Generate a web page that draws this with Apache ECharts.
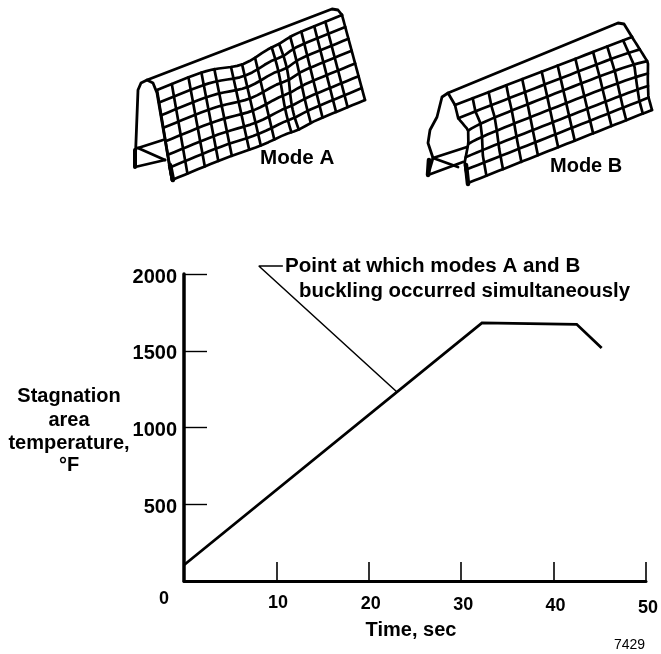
<!DOCTYPE html>
<html><head><meta charset="utf-8">
<style>html,body{margin:0;padding:0;background:#fff}#c{width:661px;height:654px}</style>
<script src="https://cdn.jsdelivr.net/npm/echarts@6/dist/echarts.min.js"></script>
</head><body><div id="c"></div>
<script>
// ---- chart data ----
const xTicks = [0, 10, 20, 30, 40, 50];
const yTicks = [0, 500, 1000, 1500, 2000];
const temperature = [[0, 104], [32.25, 1681], [42.5, 1672], [45.2, 1518]];
const leader = [[10.7, 2052], [8.1, 2052], [23.05, 1231]];
const xTitle = 'Time, sec';
const yTitle = ['Stagnation', 'area', 'temperature,', '°F'];
const noteLines = ['Point at which modes A and B', 'buckling occurred simultaneously'];
const FONT = '"Liberation Sans", Arial, sans-serif';

// ---- illustration helpers (decorative drawings, not data) ----
const lerp = (a, b, t) => a + (b - a) * t;
function interp(tab, v) {
  for (let i = 1; i < tab.length; i++) if (v <= tab[i][0]) {
    const t = (v - tab[i - 1][0]) / (tab[i][0] - tab[i - 1][0]);
    return lerp(tab[i - 1][1], tab[i][1], t);
  }
  return tab[tab.length - 1][1];
}
function mesh(c, us, vs, warp) {
  const P = (u, v) => {
    const x = lerp(lerp(c.tl[0], c.tr[0], u), lerp(c.bl[0], c.br[0], u), v);
    const y = lerp(lerp(c.tl[1], c.tr[1], u), lerp(c.bl[1], c.br[1], u), v);
    const d = warp(u, v);
    return [x + d[0], y + d[1]];
  };
  const out = [], N = 30;
  us.forEach(u => { const p = []; for (let i = 0; i <= N; i++) p.push(P(u, i / N)); out.push(p); });
  vs.forEach(v => { const p = []; for (let i = 0; i <= N; i++) p.push(P(i / N, v)); out.push(p); });
  return out;
}
const stroke = (points, w) => ({
  type: 'polyline', silent: true, shape: { points },
  style: { stroke: '#000', lineWidth: w, fill: null, lineJoin: 'round', lineCap: 'round' }
});
const label = (text, x, y, size, sx, weight, align) => ({
  type: 'text', silent: true, x, y, scaleX: sx || 1,
  style: { text, fill: '#000', font: (weight || 'bold') + ' ' + size + 'px ' + FONT, align: align || 'left', verticalAlign: 'middle' }
});

const usA = [0, .08, .17, .24, .31, .40, .46, .53, .62, .66, .72, .78, .85, .91, 1];
const vsA = [0, .14, .28, .42, .57, .72, .86, 1];
const warpA = (u, v) => {
  const g = Math.exp(-Math.pow((u - .47) / .14, 2));
  const k = Math.exp(-Math.pow((u - .66) / .05, 2));
  return [k * 2 * Math.sin(v * 6), g * 9 * (1 - .75 * v) + k * 2];
};
const cornersA = { tl: [157, 90], tr: [342, 15], br: [365, 100], bl: [172, 180] };
const meshA = mesh(cornersA, usA, vsA, warpA);
const profileA = [
  [[172, 180], [157, 93], [153, 83], [147, 80], [141, 83], [138, 90], [135, 167], [165, 160]],
  [[138, 148], [163, 140]], [[138, 148], [165, 160]],
  [[147, 80], [332, 9], [338, 10], [342, 15]]
];

const usB = [0, .10, .19, .29, .38, .49, .58, .68, .78, .86, .95, 1];
const vsB = [0, .17, .33, .5, .67, .83, 1];
const leftB = [[0, 0], [.17, 1], [.32, 9], [.49, 7], [.74, 0], [1, 0]];
const rightB = [[0, 0], [.23, 6], [.35, 9], [.59, 4], [.82, 0], [1, 0]];
const warpB = (u, v) => {
  const dx = interp(leftB, v) * Math.exp(-u / .1) + interp(rightB, v) * Math.exp(-(1 - u) / .07);
  return [dx, 0];
};
const cornersB = { tl: [455, 105], tr: [632, 37], br: [652, 110], bl: [468, 183] };
const meshB = mesh(cornersB, usB, vsB, warpB);
const profileB = [
  [[455, 105], [448, 93], [442, 97], [437, 117], [430, 130], [428, 143], [433, 158], [428, 175], [463, 162]],
  [[433, 158], [467, 147]], [[433, 158], [458, 167]],
  [[448, 93], [618, 23], [624, 24], [632, 37]]
];

const titleRows = [396, 420, 443, 465];
const drawings = [
  ...meshA.map(p => stroke(p, 2.7)), ...profileA.map(p => stroke(p, 2.8)), stroke([[170, 165], [173, 180]], 4.5),
  stroke([[135, 150], [135, 167]], 4),
  ...meshB.map(p => stroke(p, 2.7)), ...profileB.map(p => stroke(p, 2.8)), stroke([[429, 160], [428, 175]], 4.5),
  stroke([[466, 165], [468, 184]], 4.5),
  label('Mode A', 260, 158, 20, 1.03),
  label('Mode B', 550, 166, 20, 1.0),
  label(noteLines[0], 285, 266, 20, 1.03),
  label(noteLines[1], 299, 291, 20, 1.02),
  label('7429', 614, 645, 14, 1, 'normal'),
  ...yTitle.map((s, i) => label(s, 69, titleRows[i], 20, 1, 'bold', 'center'))
];

// ---- chart ----
const rowOffset = { 0: 'a', 10: 'b', 20: 'c', 30: 'd', 40: 'e', 50: 'f' };
const lab = { fontWeight: 'bold', fontSize: 18, fontFamily: FONT };
const rich = {
  a: { ...lab, padding: [0, 40, 0, 0] },
  b: { ...lab, padding: [4, 0, 0, 3] },
  c: { ...lab, padding: [5, 0, 0, 4] },
  d: { ...lab, padding: [6, 0, 0, 4] },
  e: { ...lab, padding: [7, 0, 0, 4] },
  f: { ...lab, padding: [9, 0, 0, 4] }
};
const chart = echarts.init(document.getElementById('c'), null, { renderer: 'canvas' });
chart.setOption({
  animation: false,
  backgroundColor: '#fff',
  grid: { left: 184, right: 15, top: 274, bottom: 73, containLabel: false },
  xAxis: {
    type: 'value', min: xTicks[0], max: xTicks[xTicks.length - 1], interval: 10,
    name: xTitle, nameLocation: 'middle', nameGap: 39,
    nameTextStyle: { color: '#000', fontWeight: 'bold', fontSize: 20, fontFamily: FONT, padding: [0, 8, 0, 0] },
    axisLine: { show: true, lineStyle: { color: '#000', width: 3 } },
    axisTick: { show: true, inside: true, length: 19, lineStyle: { color: '#000', width: 1.6 } },
    axisLabel: { margin: 9, color: '#000', fontWeight: 'bold', fontSize: 18, fontFamily: FONT, formatter: v => `{${rowOffset[v]}|${v}}`, rich },
    splitLine: { show: false }
  },
  yAxis: {
    type: 'value', min: yTicks[0], max: yTicks[yTicks.length - 1], interval: 500,
    axisLine: { show: true, lineStyle: { color: '#000', width: 3.5 } },
    axisTick: { show: true, inside: true, length: 23, lineStyle: { color: '#000', width: 1.4 } },
    axisLabel: { margin: 7, color: '#000', fontWeight: 'bold', fontSize: 20, fontFamily: FONT,
      formatter: v => v === 0 ? '' : `{y|${v}}`,
      rich: { y: { fontWeight: 'bold', fontSize: 20, fontFamily: FONT, padding: [6, 0, 0, 0] } } },
    splitLine: { show: false }
  },
  series: [
    { type: 'line', data: temperature, symbol: 'none', clip: false, z: 3, lineStyle: { color: '#000', width: 2.8, join: 'miter' } },
    { type: 'line', data: leader, symbol: 'none', clip: false, z: 2, lineStyle: { color: '#000', width: 1.5 } }
  ],
  graphic: { elements: drawings }
});
</script></body></html>
